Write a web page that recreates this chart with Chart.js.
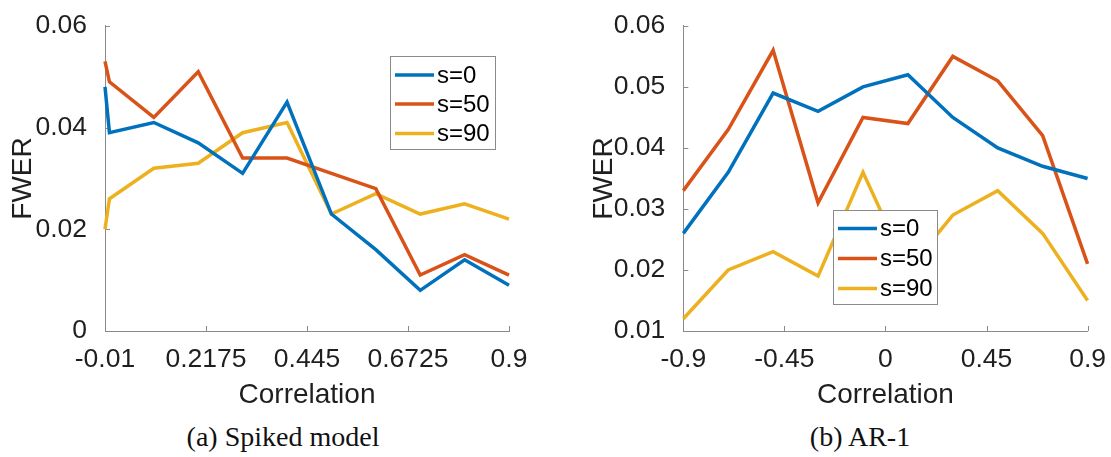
<!DOCTYPE html>
<html><head><meta charset="utf-8">
<script src="https://cdn.jsdelivr.net/npm/chart.js@4.4.1/dist/chart.umd.min.js"></script>
<style>
html,body{margin:0;padding:0;background:#fff;width:1111px;height:457px;overflow:hidden;position:relative}
canvas{position:absolute;top:0}
.cap{position:absolute;font-family:"Liberation Serif",serif;font-size:28px;color:#111;white-space:nowrap;transform:translateX(-50%);line-height:28px;top:423px}
</style></head><body>
<canvas id="c1" width="560" height="420" style="left:0"></canvas>
<canvas id="c2" width="536" height="420" style="left:575px"></canvas>
<div class="cap" style="left:283px">(a) Spiked model</div>
<div class="cap" style="left:860px">(b) AR-1</div>
<script>
const seriesNames = ['s=0', 's=50', 's=90'];
const spikedCorr = [-0.01, 0, 0.1, 0.2, 0.3, 0.4, 0.5, 0.6, 0.7, 0.8, 0.9];
const spikedS0  = [0.048, 0.039, 0.041, 0.037, 0.031, 0.045, 0.023, 0.016, 0.008, 0.014, 0.009];
const spikedS50 = [0.053, 0.049, 0.042, 0.051, 0.034, 0.034, 0.031, 0.028, 0.011, 0.015, 0.011];
const spikedS90 = [0.020, 0.026, 0.032, 0.033, 0.039, 0.041, 0.023, 0.027, 0.023, 0.025, 0.022];
const ar1Corr = [-0.9, -0.7, -0.5, -0.3, -0.1, 0.1, 0.3, 0.5, 0.7, 0.9];
const ar1S0  = [0.026, 0.036, 0.049, 0.046, 0.050, 0.052, 0.045, 0.040, 0.037, 0.035];
const ar1S50 = [0.033, 0.043, 0.056, 0.031, 0.045, 0.044, 0.055, 0.051, 0.042, 0.021];
const ar1S90 = [0.012, 0.020, 0.023, 0.019, 0.036, 0.020, 0.029, 0.033, 0.026, 0.015];
const spikedXTicks = [-0.01, 0.2175, 0.445, 0.6725, 0.9];
const spikedXTickLabels = ['-0.01', '0.2175', '0.445', '0.6725', '0.9'];
const spikedYTicks = [0, 0.02, 0.04, 0.06];
const spikedYTickLabels = ['0', '0.02', '0.04', '0.06'];
const ar1XTicks = [-0.9, -0.45, 0, 0.45, 0.9];
const ar1XTickLabels = ['-0.9', '-0.45', '0', '0.45', '0.9'];
const ar1YTicks = [0.01, 0.02, 0.03, 0.04, 0.05, 0.06];
const ar1YTickLabels = ['0.01', '0.02', '0.03', '0.04', '0.05', '0.06'];
const xTitle = 'Correlation';
const yTitle = 'FWER';
const seriesColors = ['#0072BD', '#D95319', '#EDB120'];

const TEXT = '#1f1f1f';
const AXIS = '#8a8a8a';
Chart.defaults.font.family = '"Liberation Sans", Arial, sans-serif';
Chart.defaults.color = TEXT;

const tickMarks = {
  id: 'tickMarks',
  beforeDatasetsDraw(chart) {
    const {ctx, chartArea: a, scales: {x, y}} = chart;
    ctx.save();
    ctx.strokeStyle = AXIS; ctx.lineWidth = 1;
    ctx.beginPath();
    x.ticks.forEach(t => { const p = Math.round(x.getPixelForValue(t.value)) + 0.5; ctx.moveTo(p, a.bottom); ctx.lineTo(p, a.bottom - 5); });
    y.ticks.forEach(t => { const p = Math.round(y.getPixelForValue(t.value)) + 0.5; ctx.moveTo(a.left, p); ctx.lineTo(a.left + 5, p); });
    ctx.stroke();
    ctx.restore();
  }
};

const boxLegend = {
  id: 'boxLegend',
  afterDatasetsDraw(chart, args, o) {
    const ctx = chart.ctx;
    const L = Math.round(chart.chartArea.left + o.x), T = Math.round(chart.chartArea.top + o.y);
    ctx.save();
    ctx.fillStyle = '#fff'; ctx.fillRect(L, T, o.w, o.h);
    ctx.strokeStyle = AXIS; ctx.lineWidth = 1; ctx.strokeRect(L + 0.5, T + 0.5, o.w, o.h);
    ctx.font = o.fontSize + 'px "Liberation Sans", Arial, sans-serif';
    ctx.textBaseline = 'middle'; ctx.textAlign = 'left';
    chart.data.datasets.forEach((ds, i) => {
      const yy = T + o.rows[i];
      ctx.strokeStyle = ds.borderColor; ctx.lineWidth = 3.4;
      ctx.beginPath(); ctx.moveTo(L + 5, yy); ctx.lineTo(L + 44, yy); ctx.stroke();
      ctx.fillStyle = '#000'; ctx.fillText(ds.label, L + 47, yy + 1);
    });
    ctx.restore();
  }
};

function makeChart(id, xs, series, xr, yr, xTicks, xLabels, yTicks, yLabels, lay) {
  new Chart(document.getElementById(id), {
    type: 'line',
    data: {
      datasets: series.map((vals, i) => ({
        label: seriesNames[i],
        data: xs.map((xv, j) => ({x: xv, y: vals[j]})),
        borderColor: seriesColors[i],
        backgroundColor: seriesColors[i],
        borderWidth: 3.5,
        pointRadius: 0,
        tension: 0,
        fill: false,
        clip: 4
      }))
    },
    options: {
      responsive: false,
      animation: false,
      events: [],
      layout: {padding: {left: 0, right: lay.padRight, top: 22.7, bottom: 8}},
      plugins: {legend: {display: false}, tooltip: {enabled: false},
        boxLegend: lay.legend},
      scales: {
        x: {
          type: 'linear', min: xr[0], max: xr[1],
          afterBuildTicks: s => { s.ticks = xTicks.map(v => ({value: v})); },
          afterFit: s => { s.height = 81; },
          grid: {display: false},
          border: {display: true, color: AXIS, width: 1},
          ticks: {font: {size: 26.5}, color: TEXT, padding: 5, maxRotation: 0, autoSkip: false,
            callback: (v, i) => xLabels[i]},
          title: {display: true, text: xTitle, font: {size: 28}, color: TEXT, padding: {top: 0, bottom: 0}}
        },
        y: {
          type: 'linear', min: yr[0], max: yr[1],
          afterBuildTicks: s => { s.ticks = yTicks.map(v => ({value: v})); },
          afterFit: s => { s.width = lay.yWidth; },
          grid: {display: false},
          border: {display: true, color: AXIS, width: 1},
          ticks: {font: {size: 26.5}, color: TEXT, padding: 10, autoSkip: false,
            callback: (v, i) => yLabels[i]},
          title: {display: true, text: yTitle, font: {size: 28}, color: TEXT, padding: {top: lay.yTitlePad, bottom: 0}}
        }
      }
    },
    plugins: [tickMarks, boxLegend]
  });
}

makeChart('c1', spikedCorr, [spikedS0, spikedS50, spikedS90], [-0.01, 0.9], [0, 0.06],
  spikedXTicks, spikedXTickLabels, spikedYTicks, spikedYTickLabels,
  {padRight: 51, yWidth: 105, yTitlePad: 6.2,
   legend: {x: 285, y: 30, w: 105, h: 93, rows: [19, 48, 77.5], fontSize: 24}});

makeChart('c2', ar1Corr, [ar1S0, ar1S50, ar1S90], [-0.9, 0.9], [0.01, 0.06],
  ar1XTicks, ar1XTickLabels, ar1YTicks, ar1YTickLabels,
  {padRight: 23.3, yWidth: 108.3, yTitlePad: 12.2,
   legend: {x: 150, y: 184, w: 104, h: 94, rows: [18.5, 48.5, 78.5], fontSize: 24}});
</script>
</body></html>
